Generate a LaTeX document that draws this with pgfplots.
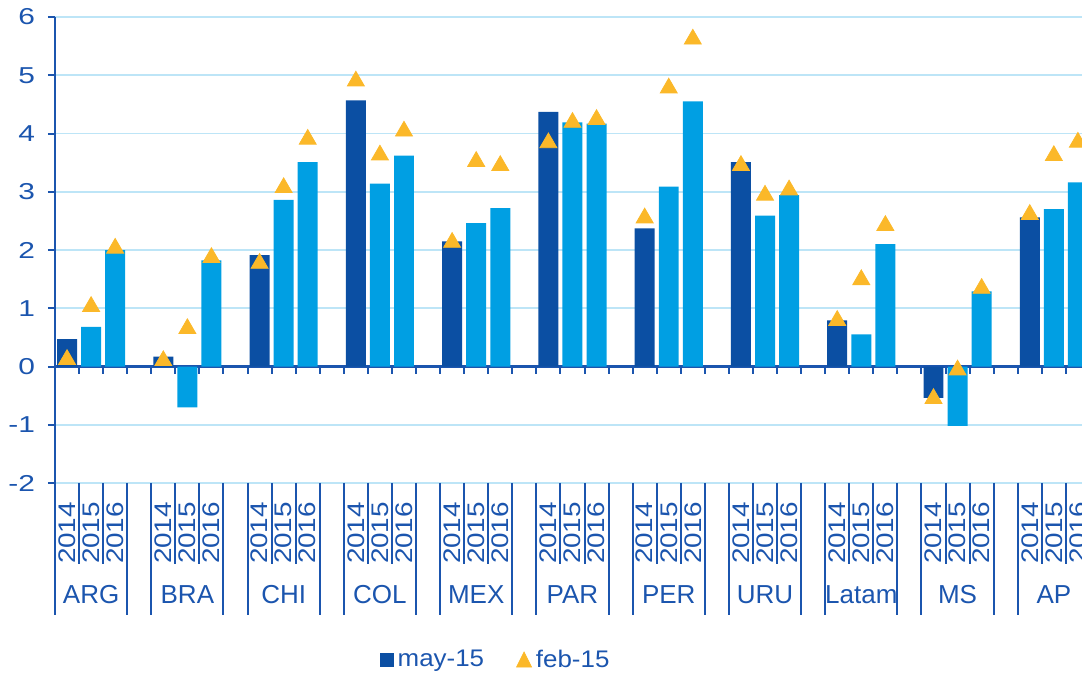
\documentclass[border=0pt]{standalone}
\usepackage{pgfplots}
\pgfplotsset{compat=1.18}
\usetikzlibrary{calc}
\usepackage{fontspec}
\setmainfont{Liberation Sans}
\definecolor{dkb}{HTML}{0B4FA3}
\definecolor{ltb}{HTML}{009FE3}
\definecolor{tri}{HTML}{FBB829}
\definecolor{grd}{HTML}{BDE5F7}
\definecolor{txt}{HTML}{1B55AE}
\newcommand\yrf{\fontsize{12}{12}\selectfont}
\newcommand\grf{\fontsize{13}{13}\selectfont}
\newcommand\wdt[1]{\scalebox{1.3}[1]{#1}}
\begin{document}
\begin{tikzpicture}
\begin{axis}[
  name=ax,
  width=513.5pt, height=233pt, scale only axis,
  xmin=-0.5, xmax=42.17, ymin=-2, ymax=6,
  axis x line=middle, axis y line=left,
  axis line style={-, draw=txt, line width=1pt},
  x axis line style={line width=1.3pt},
  hide obscured x ticks=false, hide obscured y ticks=false,
  xtick={0.5,1.5,...,41.5},
  xticklabels={},
  xtick align=outside, ytick align=outside,
  major tick length=3.5pt,
  tick style={draw=txt, line width=1pt},
  ytick={-2,-1,0,1,2,3,4,5,6},
  yticklabels={\wdt{-2},\wdt{-1},\wdt{0},\wdt{1},\wdt{2},\wdt{3},\wdt{4},\wdt{5},\wdt{6}},
  yticklabel style={font=\fontsize{11.5}{11.5}\selectfont, text=txt, xshift=-3pt},
  ymajorgrids, grid style={draw=grd, line width=0.8pt},
  clip=false,
  legend style={at={(0.43,-0.38)}, anchor=center, draw=none, fill=none,
    legend columns=2, font=\fontsize{12}{12}\selectfont, text=txt,
    /tikz/every even column/.append style={column sep=14pt}},
]
% 2014 (dark)
\addplot[ybar, bar width=0.83, bar shift=0pt, fill=dkb, draw=none,
  legend image code/.code={\fill[dkb] (0pt,-3.5pt) rectangle (7pt,3.5pt);}]
  coordinates {(0,0.47) (4,0.17) (8,1.91) (12,4.57) (16,2.15) (20,4.37) (24,2.37) (28,3.51) (32,0.79) (36,-0.54) (40,2.56)};
\addlegendentry{\scalebox{1.08}[1]{may-15}}
% 2015 and 2016 (light)
\addplot[ybar, bar width=0.83, bar shift=0pt, fill=ltb, draw=none, forget plot]
  coordinates {(1,0.68) (5,-0.70) (9,2.86) (13,3.14) (17,2.46) (21,4.19) (25,3.09) (29,2.59) (33,0.55) (37,-1.02) (41,2.70)
               (2,2.00) (6,1.82) (10,3.51) (14,3.62) (18,2.72) (22,4.17) (26,4.55) (30,2.94) (34,2.10) (38,1.29) (42,3.16)};
% feb-15 triangles
\addplot[color=tri, only marks, mark=triangle*, mark size=4.9pt, mark options={solid, fill=tri, draw=none},
  legend image code/.code={\fill[tri] (0pt,-3.5pt) -- (7.5pt,-3.5pt) -- (3.75pt,4pt) -- cycle;}]
  coordinates {(0,0.12) (4,0.10) (8,1.77) (12,4.90) (16,2.13) (20,3.84) (24,2.55) (28,3.45) (32,0.79) (36,-0.55) (40,2.61)
               (1,1.03) (5,0.65) (9,3.07) (13,3.63) (17,3.52) (21,4.19) (25,4.78) (29,2.94) (33,1.49) (37,-0.06) (41,3.62)
               (2,2.03) (6,1.87) (10,3.90) (14,4.04) (18,3.45) (22,4.24) (26,5.62) (30,3.03) (34,2.42) (38,1.34) (42,3.85)};
\addlegendentry{\scalebox{1.08}[1]{feb-15}}
% category label area
\pgfplotsinvokeforeach{0,4,...,40}{
  \node[rotate=90, font=\yrf, text=txt, inner sep=0pt] at ($(axis cs:#1,-2)+(0pt,-25pt)$) {\scalebox{1.16}[1]{2014}};
  \node[rotate=90, font=\yrf, text=txt, inner sep=0pt] at ($(axis cs:{#1+1},-2)+(0pt,-25pt)$) {\scalebox{1.16}[1]{2015}};
  \node[rotate=90, font=\yrf, text=txt, inner sep=0pt] at ($(axis cs:{#1+2},-2)+(0pt,-25pt)$) {\scalebox{1.16}[1]{2016}};
  \draw[txt, line width=1pt] (axis cs:{#1-0.5},-2) -- ++(0pt,-66pt);
  \draw[txt, line width=1pt] (axis cs:{#1+2.5},-2) -- ++(0pt,-66pt);
  \draw[txt, line width=1pt] (axis cs:{#1+0.5},-2) -- ++(0pt,-40.5pt);
  \draw[txt, line width=1pt] (axis cs:{#1+1.5},-2) -- ++(0pt,-40.5pt);
}
\node[font=\grf, text=txt, anchor=base] at ($(axis cs:1,-2)+(0pt,-60pt)$) {ARG};
\node[font=\grf, text=txt, anchor=base] at ($(axis cs:5,-2)+(0pt,-60pt)$) {BRA};
\node[font=\grf, text=txt, anchor=base] at ($(axis cs:9,-2)+(0pt,-60pt)$) {CHI};
\node[font=\grf, text=txt, anchor=base] at ($(axis cs:13,-2)+(0pt,-60pt)$) {COL};
\node[font=\grf, text=txt, anchor=base] at ($(axis cs:17,-2)+(0pt,-60pt)$) {MEX};
\node[font=\grf, text=txt, anchor=base] at ($(axis cs:21,-2)+(0pt,-60pt)$) {PAR};
\node[font=\grf, text=txt, anchor=base] at ($(axis cs:25,-2)+(0pt,-60pt)$) {PER};
\node[font=\grf, text=txt, anchor=base] at ($(axis cs:29,-2)+(0pt,-60pt)$) {URU};
\node[font=\grf, text=txt, anchor=base] at ($(axis cs:33,-2)+(0pt,-60pt)$) {Latam};
\node[font=\grf, text=txt, anchor=base] at ($(axis cs:37,-2)+(0pt,-60pt)$) {MS};
\node[font=\grf, text=txt, anchor=base] at ($(axis cs:41,-2)+(0pt,-60pt)$) {AP};
\end{axis}
\pgfresetboundingbox
\path[use as bounding box] ($(ax.south west)+(-27.5pt,-95.5pt)$) rectangle ($(ax.north east)+(0pt,8.5pt)$);
\end{tikzpicture}
\end{document}
